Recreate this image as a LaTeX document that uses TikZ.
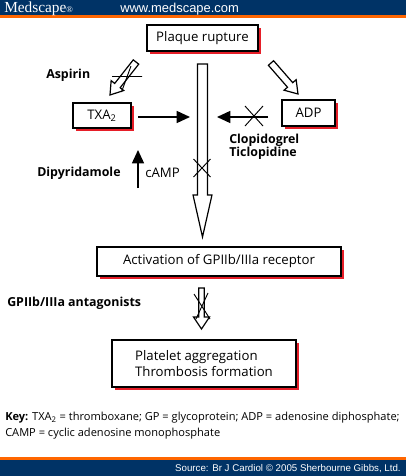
\documentclass[tikz,border=0pt]{standalone}
\usepackage{fontspec}
\setmainfont{Open Sans}
\newfontfamily\arialf{Liberation Sans}
\newfontfamily\timesf{Liberation Serif}
\usetikzlibrary{calc,shadows,arrows.meta}
\definecolor{mblue}{RGB}{0,51,102}
\definecolor{morange}{RGB}{255,102,0}
\definecolor{shred}{RGB}{230,30,40}
\newcommand\hollowarr[5]{% start, tip, half shaft, half head, head length
  \coordinate (ha-b) at ($(#2)!#5!(#1)$);
  \draw[line width=0.9pt, fill=white, line join=miter]
    ($(#1)!#3!90:(#2)$) -- ($(ha-b)!#3!90:(#2)$) -- ($(ha-b)!#4!90:(#2)$) -- (#2)
    -- ($(ha-b)!#4!-90:(#2)$) -- ($(ha-b)!#3!-90:(#2)$) -- ($(#1)!#3!-90:(#2)$) -- cycle;}
\begin{document}
\begin{tikzpicture}[x=0.75pt,y=-0.75pt,
  box/.style={draw=black, line width=1.3pt, fill=white, inner sep=0pt,
    font=\fontsize{9.9}{11.5}\selectfont, align=center,
    general shadow={shadow xshift=2.6pt, shadow yshift=-2.6pt, fill=shred}},
  lbl/.style={font=\bfseries\fontsize{9.3}{9.75}\selectfont, inner sep=0pt, align=left},
  xmark/.style={line width=0.7pt},
  solidarr/.style={line width=1.1pt, -{Triangle[length=10pt, width=9pt]}}]
\useasboundingbox (0,0) rectangle (406,476);
\fill[white] (0,0) rectangle (406,476);
% header
\fill[mblue] (0,0) rectangle (406,15);
\fill[morange] (0,15) rectangle (406,17.5);
\node[anchor=base west, inner sep=0pt, text=white, font=\timesf\fontsize{11.5}{12}\selectfont] (brand) at (4,12.5) {Medscape{\fontsize{6.5}{6}\selectfont\textregistered}};
\node[anchor=base west, inner sep=0pt, text=white, font=\arialf\fontsize{9.7}{10}\selectfont] (url) at (120,12.5) {www.medscape.com};
% footer
\fill[morange] (0,457) rectangle (406,459.5);
\fill[mblue] (0,459.5) rectangle (406,476);
\node[anchor=base east, inner sep=0pt, text=white, font=\arialf\fontsize{7.3}{9}\selectfont] (src) at (401,471) {Source: Br J Cardiol \textcopyright\ 2005 Sherbourne Gibbs, Ltd.};
% key
\node[anchor=base west, inner sep=0pt, font=\fontsize{8.3}{11.3}\selectfont, align=left] (key) at (5,436)
  {\textbf{Key:} TXA\textsubscript{2} = thromboxane; GP = glycoprotein; ADP = adenosine diphosphate;\\CAMP = cyclic adenosine monophosphate};
% boxes
\node[box, minimum width=111*0.75pt, minimum height=26*0.75pt] (plaque) at (202.5,38) {Plaque rupture};
\node[box, minimum width=58*0.75pt, minimum height=25*0.75pt] (txa) at (102,115.5) {TXA\textsubscript{2}};
\node[box, minimum width=53*0.75pt, minimum height=26*0.75pt] (adp) at (308.5,113) {ADP};
\node[box, minimum width=244*0.75pt, minimum height=29*0.75pt] (act) at (219,261.5) {Activation of GPIIb/IIIa receptor};
\node[box, minimum width=184*0.75pt, minimum height=47*0.75pt, align=left] (plat) at (204,363.5) {Platelet aggregation\\Thrombosis formation};
% labels
\node[lbl, anchor=west] (aspirin) at (46,75) {Aspirin};
\node[lbl, anchor=north west] (clop) at (229,134) {Clopidogrel\\Ticlopidine};
\node[lbl, anchor=west] (dipy) at (37,173) {Dipyridamole};
\node[anchor=west, inner sep=0pt, font=\fontsize{9.9}{10}\selectfont] (camp) at (145,173) {cAMP};
\node[lbl, anchor=west] (gp) at (7,303) {GPIIb/IIIa antagonists};
% main hollow arrow
\coordinate (m-s) at (202.5,64);
\coordinate (m-t) at (202.5,237);
\hollowarr{m-s}{m-t}{3.75pt}{7.1pt}{31.5pt}
% aspirin hollow arrow
\coordinate (a-s) at (136,62);
\coordinate (a-t) at (110,95);
\hollowarr{a-s}{a-t}{2.6pt}{6pt}{9pt}
% adp hollow arrow
\coordinate (d-s) at (271,63);
\coordinate (d-t) at (298,94);
\hollowarr{d-s}{d-t}{2.6pt}{6pt}{9pt}
% small hollow arrow
\coordinate (g-s) at (201.5,288);
\coordinate (g-t) at (201.5,329);
\hollowarr{g-s}{g-t}{2pt}{6pt}{9pt}
% solid arrows
\coordinate (txa-s) at (138,117);
\coordinate (txa-e) at (190,117);
\coordinate (adp-s) at (268,117);
\coordinate (adp-e) at (217,117);
\coordinate (camp-s) at (138,188);
\coordinate (camp-e) at (138,150);
\draw[solidarr] (txa-s) -- (txa-e);
\draw[solidarr] (adp-s) -- (adp-e);
\draw[solidarr] (camp-s) -- (camp-e);
% crosses
\draw[xmark] (112,76.5) -- (142,76.5) (131,66) -- (121.5,92);
\draw[xmark] (245,106) -- (263,126) (263,106) -- (245,126);
\draw[xmark] (193.5,159) -- (210.5,177) (210.5,159) -- (193.5,177);
\draw[xmark] (194,294) -- (210,319) (208,293) -- (196,319);
\end{tikzpicture}
\end{document}
